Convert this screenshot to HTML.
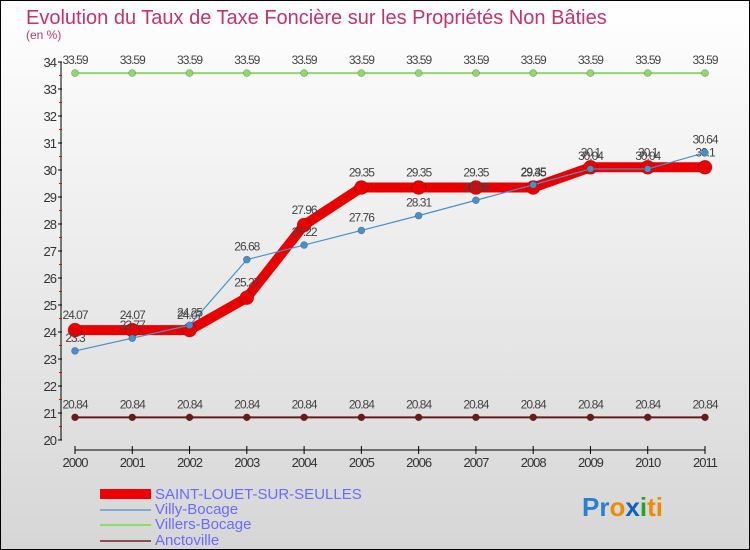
<!DOCTYPE html>
<html><head><meta charset="utf-8"><style>
body{margin:0}
#c{width:750px;height:550px;position:relative;overflow:hidden}
svg text{font-family:"Liberation Sans",sans-serif}
</style></head><body>
<div id="c">
<svg id="s" width="750" height="550" xmlns="http://www.w3.org/2000/svg">
<defs><linearGradient id="bg" x1="0" y1="0" x2="0" y2="1"><stop offset="0" stop-color="#ffffff"/><stop offset="1" stop-color="#d6d6d6"/></linearGradient></defs>
<rect x="0.5" y="0.5" width="749" height="549" fill="url(#bg)" stroke="#000"/>
<text x="26" y="24" font-size="20" fill="#c0356a">Evolution du Taux de Taxe Foncière sur les Propriétés Non Bâties</text>
<text x="26" y="39" font-size="12" fill="#c0356a">(en %)</text>
<g id="axes"></g><g id="series"></g>
<g>
<rect x="100" y="489" width="51" height="10" fill="#e00"/>
<text x="155" y="499" font-size="15" fill="#6a6aff">SAINT-LOUET-SUR-SEULLES</text>
<line x1="100" y1="510" x2="151" y2="510" stroke="#7aaed6" stroke-width="2"/>
<text x="155" y="514" font-size="15" fill="#6a6aff">Villy-Bocage</text>
<line x1="100" y1="525" x2="151" y2="525" stroke="#8fd86a" stroke-width="2"/>
<text x="155" y="529" font-size="15" fill="#6a6aff">Villers-Bocage</text>
<line x1="100" y1="541" x2="151" y2="541" stroke="#8a5050" stroke-width="2"/>
<text x="155" y="545" font-size="15" fill="#6a6aff">Anctoville</text>
</g>
<text x="582" y="516" font-size="26" font-weight="bold"><tspan fill="#2a7fd4">Pr</tspan><tspan fill="#f08a00">o</tspan><tspan fill="#1060c0">x</tspan><tspan fill="#2aa02a">i</tspan><tspan fill="#f08a00">ti</tspan></text>
</svg></div>
<script>
const years=[2000,2001,2002,2003,2004,2005,2006,2007,2008,2009,2010,2011];
const saintLouet=[24.07,24.07,24.07,25.27,27.96,29.35,29.35,29.35,29.35,30.1,30.1,30.1];
const villyBocage=[23.3,23.77,24.25,26.68,27.22,27.76,28.31,28.88,29.45,30.04,30.04,30.64];
const villersBocage=[33.59,33.59,33.59,33.59,33.59,33.59,33.59,33.59,33.59,33.59,33.59,33.59];
const anctoville=[20.84,20.84,20.84,20.84,20.84,20.84,20.84,20.84,20.84,20.84,20.84,20.84];
const yTicks=[20,21,22,23,24,25,26,27,28,29,30,31,32,33,34];
const NS='http://www.w3.org/2000/svg';
const X=i=>75+i*(630/11), Y=v=>440-(v-20)*27;
function mk(t,a,p){const e=document.createElementNS(NS,t);for(const k in a)e.setAttribute(k,a[k]);p.appendChild(e);return e;}
const ax=document.getElementById('axes'), se=document.getElementById('series');
let l=mk('line',{x1:61,y1:62,x2:61,y2:440,stroke:'#000'},ax);


yTicks.forEach(v=>{
 mk('line',{x1:58,y1:Y(v),x2:62,y2:Y(v),stroke:'#000'},ax);
 if(v<34) mk('line',{x1:59,y1:Y(v+0.5),x2:62,y2:Y(v+0.5),stroke:'#e00'},ax);
 const t=mk('text',{x:56,y:Y(v)+5,'font-size':13,'text-anchor':'end',fill:'#333','letter-spacing':'-1'},ax);
 t.textContent=v;
 
 
});
l=mk('line',{x1:75,y1:450,x2:705,y2:450,stroke:'#000'},ax);


years.forEach((y,i)=>{
 mk('line',{x1:X(i),y1:446,x2:X(i),y2:454,stroke:'#000'},ax);
 const t=mk('text',{x:X(i),y:467,'font-size':13,'text-anchor':'middle',fill:'#333','letter-spacing':'-1'},ax);
 t.textContent=y;
 
 
});
function series(vals,color,w,r,name,dy){
 const g=mk('g',{},se);
 
 
 mk('polyline',{points:vals.map((v,i)=>X(i)+','+Y(v)).join(' '),fill:'none',stroke:color,'stroke-width':w,'stroke-linejoin':'round'},g);
 vals.forEach((v,i)=>{
  const c=mk('circle',{cx:X(i),cy:Y(v),r:r,fill:color,stroke:'rgba(0,0,0,0.3)','stroke-width':0.6},g);
  
  
  const t=mk('text',{x:X(i),y:Y(v)+dy,'font-size':12,'text-anchor':'middle',fill:'#444','letter-spacing':'-1'},g);
  t.textContent=v;
  
  
 });
}
series(villersBocage,'#8fd86a',2,3.5,'villers-bocage-series',-9);
series(anctoville,'#6b1a1a',2,3.5,'anctoville-series',-9);
series(saintLouet,'#e80000',10,7,'saint-louet-series',-11);
series(villyBocage,'#4a90c8',1.2,3.5,'villy-bocage-series',-9);
</script>
</body></html>
